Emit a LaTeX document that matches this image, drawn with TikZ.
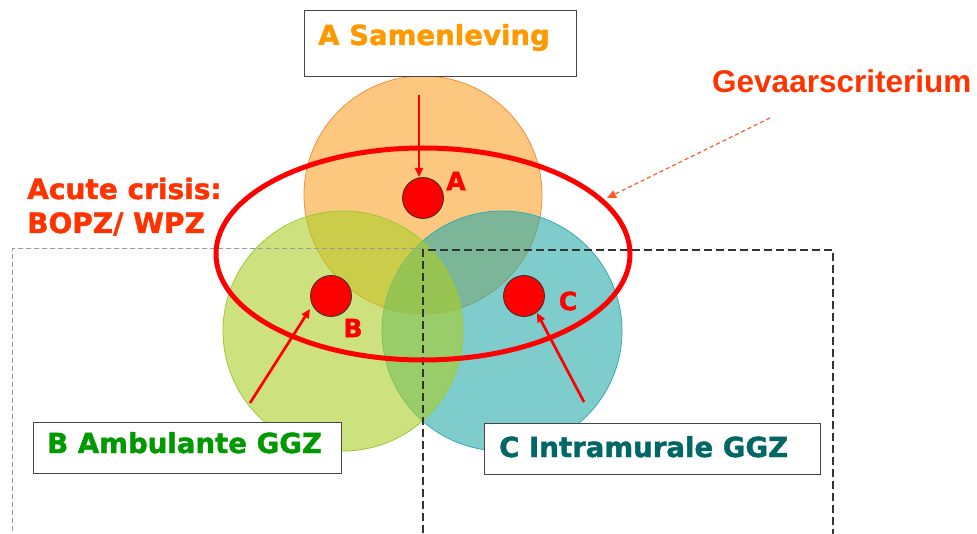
\documentclass[tikz,border=0pt]{standalone}
\usepackage{fontspec}
\setmainfont{DejaVu Sans}[BoldFeatures={FakeBold=1.5}]
\newfontfamily\labelsans{Liberation Sans}
\usetikzlibrary{arrows.meta,shapes.geometric}

\definecolor{orangebase}{RGB}{250,163,43}
\definecolor{orangeedge}{RGB}{247,140,60}
\definecolor{greenbase}{RGB}{172,207,40}
\definecolor{greenedge}{RGB}{160,200,50}
\definecolor{tealbase}{RGB}{40,170,170}
\definecolor{tealedge}{RGB}{60,170,175}
\definecolor{alarmred}{RGB}{255,0,0}
\definecolor{titlered}{RGB}{255,51,0}
\definecolor{hintred}{RGB}{255,90,40}
\definecolor{txtorange}{RGB}{255,153,0}
\definecolor{txtgreen}{RGB}{0,153,0}
\definecolor{txtteal}{RGB}{0,102,102}
\definecolor{boxline}{RGB}{70,70,70}

\tikzset{
  domainfill/.style={fill opacity=0.6},
  domainedge/.style={line width=0.8pt},
  titlebox/.style={draw=boxline, line width=1.3pt, fill=white, inner sep=0pt},
  boxtext/.style={font=\fontsize{27.6}{30}\selectfont\bfseries, anchor=base west, inner sep=0pt},
  dotnode/.style={circle, fill=alarmred, draw=black!80, line width=0.8pt, minimum size=41pt, inner sep=0pt},
  dotlabel/.style={font=\fontsize{25}{28}\selectfont\bfseries, text=alarmred, inner sep=0pt},
  pointer/.style={draw=alarmred, line width=2.7pt, -{Triangle[length=9pt,width=8pt]}},
  hint/.style={draw=hintred, line width=1.2pt, dash pattern=on 4pt off 3pt, -{Triangle[length=9pt,width=8pt]}},
  greyframe/.style={draw=black!40, line width=1pt, dash pattern=on 5pt off 3pt},
  darkframe/.style={draw=black!80, line width=1.1pt, dash pattern=on 8pt off 4pt},
  captiontext/.style={font=\fontsize{28}{34}\selectfont\bfseries, text=titlered, anchor=base west, inner sep=0pt},
}

\begin{document}
\begin{tikzpicture}[x=1pt,y=-1pt]
\useasboundingbox (0,0) rectangle (977,534);

% three overlapping domains
\fill[orangebase, domainfill] (423,195) circle[radius=119pt];
\draw[orangeedge, domainedge] (423,195) circle[radius=119pt];
\fill[tealbase, domainfill] (502,331) circle[radius=120pt];
\draw[tealedge, domainedge] (502,331) circle[radius=120pt];
\fill[greenbase, domainfill] (343,331) circle[radius=120pt];
\draw[greenedge, domainedge] (343,331) circle[radius=120pt];

% dashed frames running off the bottom edge
\begin{scope}
\clip (0,0) rectangle (977,534);
\draw[greyframe] (423,249) -- (12,249) -- (12,545);
\draw[darkframe] (423,545) -- (423,250) -- (833,250) -- (833,545);
\end{scope}

% crisis boundary
\node[draw=alarmred, line width=5pt, ellipse, minimum width=414pt, minimum height=212pt, inner sep=0pt] (crisis) at (423,254) {};

% title boxes
\node[titlebox, anchor=north west, minimum width=272pt, minimum height=66pt] (boxA) at (304,10) {};
\node[boxtext, text=txtorange] (txtA) at (318,45) {A Samenleving};
\node[titlebox, anchor=north west, minimum width=308pt, minimum height=51pt] (boxB) at (33,422) {};
\node[boxtext, text=txtgreen] (txtB) at (47,453) {B Ambulante GGZ};
\node[titlebox, anchor=north west, minimum width=336pt, minimum height=51pt] (boxC) at (484,423) {};
\node[boxtext, text=txtteal] (txtC) at (499,457) {C Intramurale GGZ};

% side captions
\node[captiontext] (acute) at (27,199) {Acute crisis:};
\node[captiontext] (bopz) at (27,233) {BOPZ/ WPZ};
\node[font=\labelsans\fontsize{31.5}{34}\selectfont\bfseries, text=titlered, anchor=base west, inner sep=0pt] (gevaar) at (712,93) {Gevaarscriterium};

% red markers
\node[dotnode] (dA) at (423,198) {};
\node[dotnode] (dB) at (331,296) {};
\node[dotnode] (dC) at (524,296) {};
\node[dotlabel] (lA) at (456,181) {A};
\node[dotlabel] (lB) at (353,328) {B};
\node[dotlabel] (lC) at (568,301) {C};

% arrows
\coordinate (sA) at (419,95);
\coordinate (sB) at (250,403);
\coordinate (sC) at (584,402);
\coordinate (sG) at (770,118);
\coordinate (tA) at (419,177);
\coordinate (tB) at (310,309);
\coordinate (tC) at (537,313);
\coordinate (tG) at (607,198);
\draw[pointer] (sA) -- (tA);
\draw[pointer] (sB) -- (tB);
\draw[pointer] (sC) -- (tC);
\draw[hint] (sG) -- (tG);
\end{tikzpicture}
\end{document}
